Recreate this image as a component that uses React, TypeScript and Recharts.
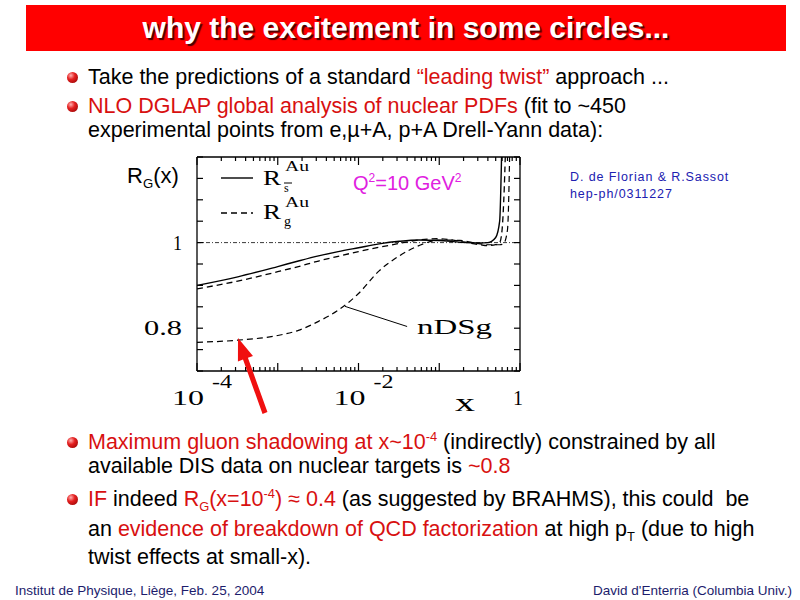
import React from 'react'
import { LineChart, Line, XAxis, YAxis, ReferenceLine } from 'recharts'

const xs = [1e-4, 3.2e-4, 1e-3, 1.8e-3, 3.2e-3, 5.6e-3, 0.01, 0.018, 0.032, 0.056, 0.1, 0.18, 0.32, 0.4, 0.5, 0.56, 0.6, 0.63, 0.7, 0.76]
// R_sbar^Au, solid
const rSea = [0.9, 0.92, 0.944, 0.957, 0.969, 0.979, 0.988, 0.997, 1.003, 1.006, 1.005, 1.001, 0.999, 1.0, 1.012, 1.05, 1.25, 1.4, null, null]
// R_g^Au, dashed (upper)
const rGlue = [0.892, 0.91, 0.932, 0.944, 0.957, 0.968, 0.979, 0.989, 0.998, 1.006, 1.009, 1.003, 0.995, 0.993, 0.995, 1.0, 1.03, 1.1, 1.4, null]
// nDSg gluon, dashed (lower)
const nDSg = [0.767, 0.772, 0.783, 0.795, 0.816, 0.842, 0.881, 0.934, 0.969, 0.993, 1.006, 1.005, 0.997, 0.995, 0.995, 0.995, 0.996, 0.998, 1.03, 1.3]

const xDecades = [1e-4, 1e-3, 1e-2, 1e-1, 1]
const xLabelTicks = [1e-4, 1e-2, 1]
const xLabelExp = ['-4', '-2', '']
const yTicks = [0.7, 0.75, 0.8, 0.85, 0.9, 0.95, 1, 1.05, 1.1, 1.15, 1.2]
const yLabelTicks = [0.8, 1]
const yLabelText = ['0.8', '1']
const yLabelWidth = [38, 9]

// pointer from the nDSg label to its curve
const nDSgPointer = [{ x: 0.0068, y: 0.851 }, { x: 0.04, y: 0.804 }]

const data = xs.map((x, i) => ({ x, rs: rSea[i], rg: rGlue[i], nd: nDSg[i] }))

const xTicks: number[] = []
for (let i = 0; i < xDecades.length - 1; i++) {
  for (let m = 1; m < 10; m++) xTicks.push(xDecades[i] * m)
}
xTicks.push(1)

const near = (a: number, b: number) => Math.abs(a - b) <= 1e-6 * Math.max(Math.abs(a), Math.abs(b))

const SERIF = '"Liberation Serif", "Times New Roman", serif'
const SANS = '"Liberation Sans", Arial, sans-serif'
const RED = '#d81010'

const BottomTick = (p: any) => {
  const v = p.payload.value
  const major = xDecades.some(t => near(t, v))
  const li = xLabelTicks.findIndex(t => near(t, v))
  return (
    <g>
      <line x1={p.x} x2={p.x} y1={p.y} y2={p.y - (major ? 8 : 4)} stroke="#000" strokeWidth={1.2} />
      {li >= 0 && xLabelExp[li] !== '' && (
        <>
          <text x={p.x - 25} y={p.y + 34} fontSize={21} fontFamily={SERIF} textLength={32} lengthAdjust="spacingAndGlyphs" fill="#000">10</text>
          <text x={p.x + 15} y={p.y + 17} fontSize={19} fontFamily={SERIF} textLength={20} lengthAdjust="spacingAndGlyphs" fill="#000">{xLabelExp[li]}</text>
        </>
      )}
      {li >= 0 && xLabelExp[li] === '' && (
        <text x={p.x - 7} y={p.y + 34} fontSize={21} fontFamily={SERIF} textLength={10} lengthAdjust="spacingAndGlyphs" fill="#000">1</text>
      )}
    </g>
  )
}

const TopTick = (p: any) => {
  const major = xDecades.some(t => near(t, p.payload.value))
  return <line x1={p.x} x2={p.x} y1={p.y} y2={p.y + (major ? 8 : 4)} stroke="#000" strokeWidth={1.2} />
}

const LeftTick = (p: any) => {
  const li = yLabelTicks.findIndex(t => near(t, p.payload.value))
  return (
    <g>
      <line x1={p.x} x2={p.x + 6} y1={p.y} y2={p.y} stroke="#000" strokeWidth={1.2} />
      {li >= 0 && (
        <text x={p.x - 15} y={p.y + 7} textAnchor="end" fontSize={21} fontFamily={SERIF} textLength={yLabelWidth[li]} lengthAdjust="spacingAndGlyphs" fill="#000">
          {yLabelText[li]}
        </text>
      )}
    </g>
  )
}

const RightTick = (p: any) => <line x1={p.x} x2={p.x - 6} y1={p.y} y2={p.y} stroke="#000" strokeWidth={1.2} />

const Bullet = ({ y }: { y: number }) => (
  <div
    style={{
      position: 'absolute', left: 67, top: y - 5.5, width: 11, height: 11, borderRadius: '50%',
      background: 'radial-gradient(circle at 35% 32%, #ffb0b0 0%, #e52020 38%, #8a0000 100%)',
    }}
  />
)

const Sup = ({ children }: { children: React.ReactNode }) => (
  <span style={{ fontSize: '0.6em', verticalAlign: 'super', lineHeight: 0 }}>{children}</span>
)
const Sub = ({ children }: { children: React.ReactNode }) => (
  <span style={{ fontSize: '0.6em', verticalAlign: 'sub', lineHeight: 0 }}>{children}</span>
)

const Row = ({ y, children }: { y: number; children: React.ReactNode }) => (
  <div style={{ position: 'absolute', left: 88, top: y - 12, height: 24, lineHeight: '24px', fontSize: 21.5, fontFamily: SANS, color: '#000', whiteSpace: 'pre' }}>
    {children}
  </div>
)
const R = ({ children }: { children: React.ReactNode }) => <span style={{ color: RED }}>{children}</span>

// red arrow pointing at the low-x gluon value
const arrowTail = { x: 265, y: 413 }
const arrowTip = { x: 238, y: 338 }
function arrowPoints() {
  const dx = arrowTip.x - arrowTail.x
  const dy = arrowTip.y - arrowTail.y
  const len = Math.hypot(dx, dy)
  const ux = dx / len, uy = dy / len
  const nx = -uy, ny = ux
  const hl = 22, hw = 8, sw = 2.6
  const bx = arrowTip.x - ux * hl, by = arrowTip.y - uy * hl
  const pts = [
    [arrowTail.x + nx * sw, arrowTail.y + ny * sw],
    [bx + nx * sw, by + ny * sw],
    [bx + nx * hw, by + ny * hw],
    [arrowTip.x, arrowTip.y],
    [bx - nx * hw, by - ny * hw],
    [bx - nx * sw, by - ny * sw],
    [arrowTail.x - nx * sw, arrowTail.y - ny * sw],
  ]
  return pts.map(q => q.join(',')).join(' ')
}

export default function App() {
  return (
    <div style={{ position: 'absolute', left: 0, top: 0, width: 800, height: 600, background: '#fff', overflow: 'hidden' }}>
      {/* title bar */}
      <div
        style={{
          position: 'absolute', left: 26, top: 5, width: 760, height: 46, background: '#ff0000',
          color: '#fff', fontFamily: SANS, fontWeight: 'bold', fontSize: 30, lineHeight: '46px', textAlign: 'center',
          textShadow: '2px 2px 1px #4a0000',
        }}
      >
        why the excitement in some circles...
      </div>

      <Bullet y={77} />
      <Row y={77}>Take the predictions of a standard <R>“leading twist”</R> approach ...</Row>
      <Bullet y={106} />
      <Row y={106}><R>NLO DGLAP global analysis of nuclear PDFs</R> (fit to ~450</Row>
      <Row y={130}>experimental points from e,µ+A, p+A Drell-Yann data):</Row>

      <div style={{ position: 'absolute', left: 127, top: 164, fontFamily: SANS, fontSize: 22, lineHeight: '24px', whiteSpace: 'pre' }}>
        R<Sub>G</Sub>(x)
      </div>

      {/* the chart */}
      <div style={{ position: 'absolute', left: 120, top: 140 }}>
        <LineChart width={420} height={290} data={data} margin={{ top: 7, right: 10, bottom: 29, left: 37 }}>
          <XAxis
            dataKey="x" type="number" scale="log" domain={[1e-4, 1]} allowDataOverflow ticks={xTicks} interval={0}
            tick={<BottomTick />} tickLine={false} tickSize={0} tickMargin={0} height={30}
            axisLine={{ stroke: '#000', strokeWidth: 1.3 }}
          />
          <XAxis
            xAxisId="top" orientation="top" dataKey="x" type="number" scale="log" domain={[1e-4, 1]} allowDataOverflow
            ticks={xTicks} interval={0} tick={<TopTick />} tickLine={false} tickSize={0} tickMargin={0} height={10}
            axisLine={{ stroke: '#000', strokeWidth: 1.3 }}
          />
          <YAxis
            type="number" domain={[0.7, 1.2]} allowDataOverflow ticks={yTicks} interval={0}
            tick={<LeftTick />} tickLine={false} tickSize={0} tickMargin={0} width={40}
            axisLine={{ stroke: '#000', strokeWidth: 1.3 }}
          />
          <YAxis
            yAxisId="right" orientation="right" type="number" domain={[0.7, 1.2]} allowDataOverflow ticks={yTicks} interval={0}
            tick={<RightTick />} tickLine={false} tickSize={0} tickMargin={0} width={10}
            axisLine={{ stroke: '#000', strokeWidth: 1.3 }}
          />
          <ReferenceLine y={1} stroke="#222" strokeWidth={0.9} strokeDasharray="4 2 1 2" />
          <ReferenceLine segment={nDSgPointer} stroke="#000" strokeWidth={1} />
          <Line dataKey="rs" type="monotone" stroke="#000" strokeWidth={1.4} dot={false} isAnimationActive={false} />
          <Line dataKey="rg" type="monotone" stroke="#000" strokeWidth={1.3} strokeDasharray="6 4" dot={false} isAnimationActive={false} />
          <Line dataKey="nd" type="monotone" stroke="#000" strokeWidth={1.2} strokeDasharray="6 4" dot={false} isAnimationActive={false} />
        </LineChart>
      </div>

      <div style={{ position: 'absolute', left: 353, top: 171, fontFamily: SANS, fontSize: 20, lineHeight: '24px', color: '#e020e0', whiteSpace: 'pre' }}>
        Q<Sup>2</Sup>=10 GeV<Sup>2</Sup>
      </div>

      <div style={{ position: 'absolute', left: 570, top: 169, fontFamily: SANS, fontSize: 12.5, lineHeight: '17px', letterSpacing: 0.9, color: '#2020b0', whiteSpace: 'pre' }}>
        D. de Florian &amp; R.Sassot{'\n'}hep-ph/0311227
      </div>

      {/* in-plot legend, curve label, axis title and arrow */}
      <svg width={800} height={600} style={{ position: 'absolute', left: 0, top: 0, pointerEvents: 'none' }}>
        <line x1={221} y1={178} x2={253} y2={178} stroke="#000" strokeWidth={1.4} />
        <text x={263} y={185} fontSize={22} fontFamily={SERIF} textLength={18} lengthAdjust="spacingAndGlyphs">R</text>
        <text x={285} y={171} fontSize={14} fontFamily={SERIF} textLength={24} lengthAdjust="spacingAndGlyphs">Au</text>
        <line x1={284} y1={183} x2={292} y2={183} stroke="#000" strokeWidth={1} />
        <text x={284} y={192} fontSize={12} fontFamily={SERIF}>s</text>

        <line x1={221} y1={213} x2={253} y2={213} stroke="#000" strokeWidth={1.3} strokeDasharray="6 4" />
        <text x={263} y={219} fontSize={22} fontFamily={SERIF} textLength={18} lengthAdjust="spacingAndGlyphs">R</text>
        <text x={285} y={207} fontSize={14} fontFamily={SERIF} textLength={24} lengthAdjust="spacingAndGlyphs">Au</text>
        <text x={284} y={226} fontSize={14} fontFamily={SERIF}>g</text>

        <text x={417} y={334} fontSize={22} fontFamily={SERIF} textLength={75} lengthAdjust="spacingAndGlyphs">nDSg</text>
        <text x={455} y={411} fontSize={26} fontFamily={SERIF} textLength={20} lengthAdjust="spacingAndGlyphs">x</text>

        <polygon points={arrowPoints()} fill="#f01010" />
      </svg>

      <Bullet y={442} />
      <Row y={442}><R>Maximum gluon shadowing at x~10<Sup>-4</Sup></R> (indirectly) constrained by all</Row>
      <Row y={466}>available DIS data on nuclear targets is <R>~0.8</R></Row>
      <Bullet y={499} />
      <Row y={499}><R>IF</R> indeed <R>R<Sub>G</Sub>(x=10<Sup>-4</Sup>) ≈ 0.4</R> (as suggested by BRAHMS), this could  be</Row>
      <Row y={529}>an <R>evidence of breakdown of QCD factorization</R> at high p<Sub>T</Sub> (due to high</Row>
      <Row y={557}>twist effects at small-x).</Row>

      <div style={{ position: 'absolute', left: 15, top: 583, fontFamily: SANS, fontSize: 13.5, lineHeight: '16px', color: '#1c1c6c', whiteSpace: 'pre' }}>
        Institut de Physique, Liège, Feb. 25, 2004
      </div>
      <div style={{ position: 'absolute', right: 8, top: 583, fontFamily: SANS, fontSize: 13.5, lineHeight: '16px', color: '#1c1c6c', whiteSpace: 'pre' }}>
        David d'Enterria (Columbia Univ.)
      </div>
    </div>
  )
}
